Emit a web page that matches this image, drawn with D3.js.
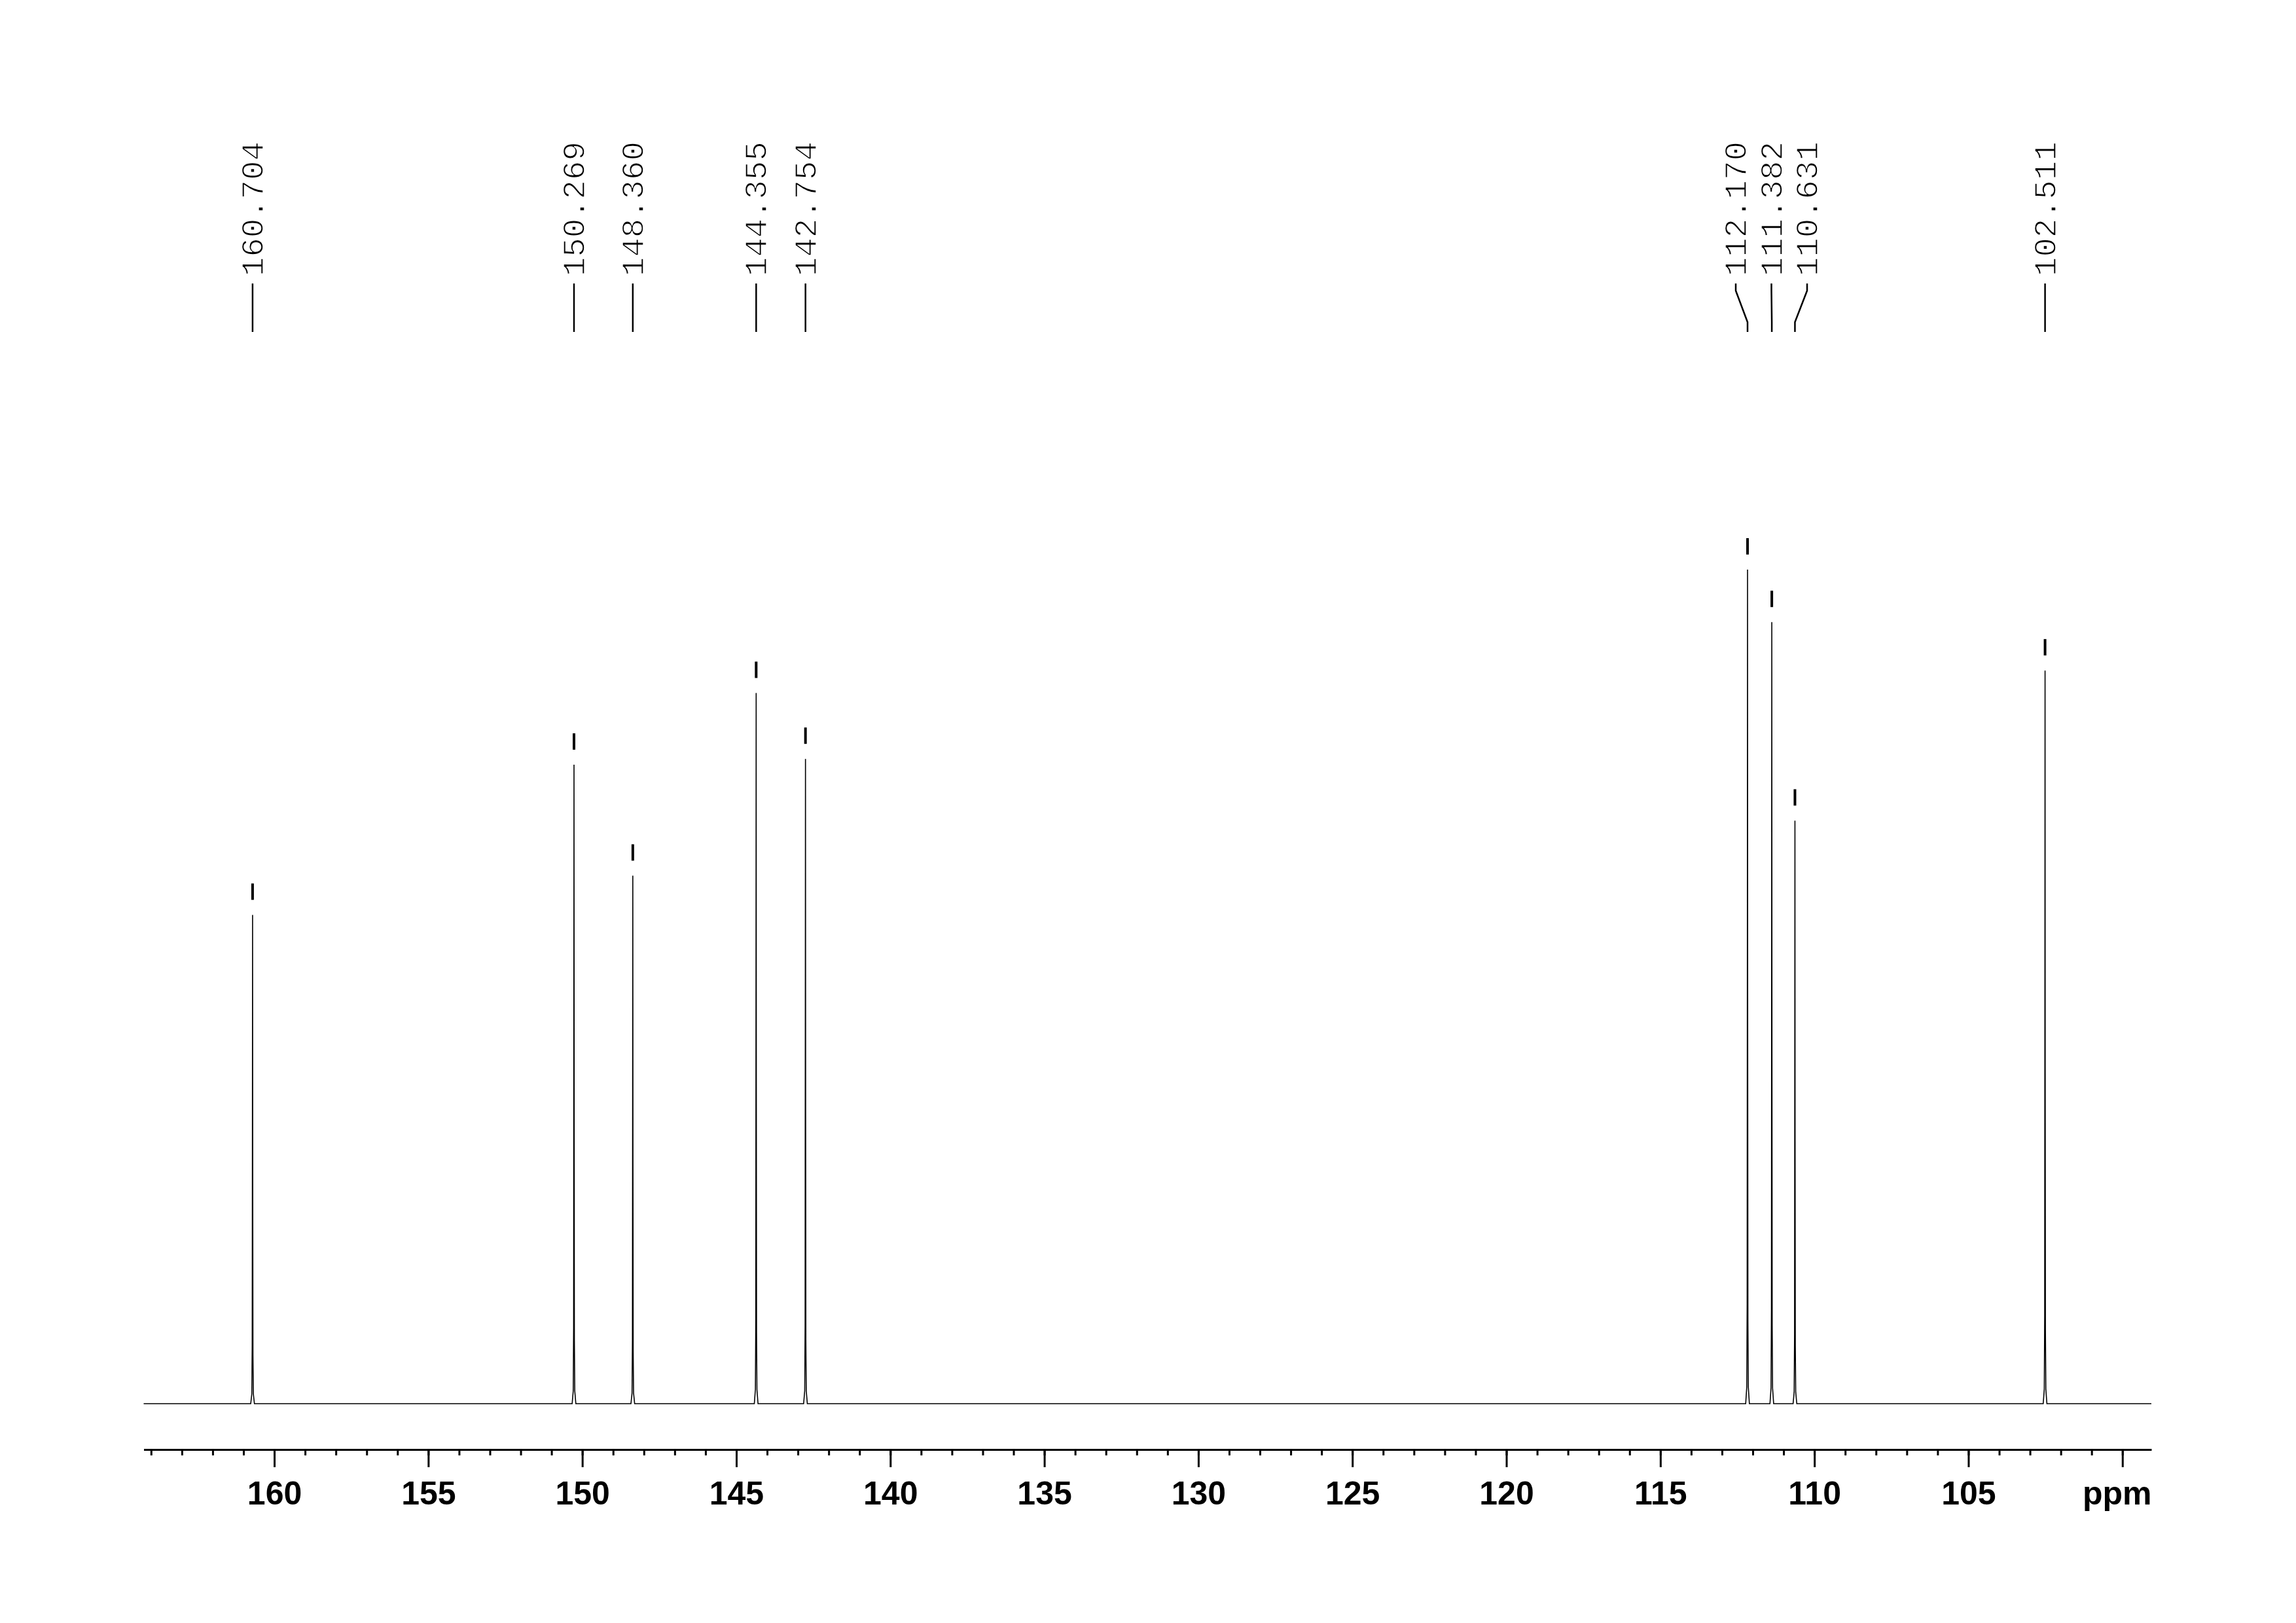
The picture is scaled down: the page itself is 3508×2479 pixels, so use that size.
<html>
<head>
<title>13C NMR</title>
<script src="https://cdn.jsdelivr.net/npm/d3@7"></script>
<style>
body { margin: 0; background: white; }
</style>
</head>
<body>
<svg id="chart"></svg>
<script>
// peaks: shift in ppm, height relative to tallest (=100)
var peak_ppm    = [160.704, 150.269, 148.360, 144.355, 142.754, 112.170, 111.382, 110.631, 102.511];
var peak_height = [58.6,    76.6,    63.3,    85.2,    77.3,    100,     93.7,    69.9,    87.9];

// shape of one peak as drawn (offset in ppm, fraction of peak height)
var shape_offset = [0.06, 0.025, 0.012, 0.005, 0, -0.005, -0.012, -0.025, -0.06];
var shape_frac   = [0,    0.02,  0.12,  0.6,   1, 0.45,   0.1,    0.02,   0];

var ppm_left = 164.24, ppm_right = 99.06;
var major_ticks = [160, 155, 150, 145, 140, 135, 130, 125, 120, 115, 110, 105, 100];
var major_labels = ["160", "155", "150", "145", "140", "135", "130", "125", "120", "115", "110", "105", "ppm"];
var minor_ticks = d3.range(164, 99.5, -1);

var width = 3508, height = 2479;
var axis_y = 2214;

var svg = d3.select("#chart").attr("width", width).attr("height", height);
svg.append("rect").attr("width", width).attr("height", height).style("fill", "white");

var x = d3.scaleLinear().domain([ppm_left, ppm_right]).range([219.5, 3287]);
var y = d3.scaleLinear().domain([0, 100]).range([2144, 870]);

// spectrum: baseline with every peak shape put in
var pts = [[ppm_left, 0]];
for (var i = 0; i < peak_ppm.length; i++) {
  for (var k = 0; k < shape_offset.length; k++) {
    pts.push([peak_ppm[i] + shape_offset[k], peak_height[i] * shape_frac[k]]);
  }
}
pts.push([ppm_right, 0]);

var line = d3.line().x(function(d) { return x(d[0]); }).y(function(d) { return y(d[1]); });
svg.append("path").attr("d", line(pts))
  .style("fill", "none").style("stroke", "#000").style("stroke-width", 1.6);

// peak markers above each top
svg.append("g").selectAll("rect").data(peak_ppm).enter()
  .append("rect")
  .attr("x", function(d) { return x(d) - 2; })
  .attr("y", function(d, i) { return y(peak_height[i]) - 48; })
  .attr("width", 4).attr("height", 25)
  .style("fill", "#000");

// label positions, spread apart where peaks sit too close
var min_gap = 54.5;
var peak_x = peak_ppm.map(function(d) { return x(d); });
var label_x = peak_x.slice();
var s = 0;
while (s < peak_x.length) {
  var e = s;
  while (e + 1 < peak_x.length && peak_x[e + 1] - peak_x[e] < min_gap) e++;
  var n = e - s + 1;
  var mean = d3.mean(peak_x.slice(s, e + 1));
  for (var j = 0; j < n; j++) label_x[s + j] = mean + (j - (n - 1) / 2) * min_gap;
  s = e + 1;
}

var labels = svg.append("g");
labels.selectAll("path").data(peak_ppm).enter()
  .append("path")
  .attr("d", function(d, i) {
    return "M" + label_x[i] + ",433 V444 L" + peak_x[i] + ",492 V507";
  })
  .style("fill", "none").style("stroke", "#000").style("stroke-width", 2.5);

// thin mono labels (white outline thins the glyph strokes a little)
labels.selectAll("text").data(peak_ppm).enter()
  .append("text")
  .attr("transform", function(d, i) { return "translate(" + label_x[i] + ",422) rotate(-90)"; })
  .attr("dy", "0.33em")
  .style("font-family", "'Liberation Mono', 'DejaVu Sans Mono', monospace")
  .style("font-size", "49px")
  .style("fill", "#000")
  .style("stroke", "#fff")
  .style("stroke-width", 1.4)
  .text(function(d) { return d3.format(".3f")(d); });

// x axis, minor then major ticks
var minor = svg.append("g").attr("transform", "translate(0," + axis_y + ")")
  .call(d3.axisBottom(x).tickValues(minor_ticks).tickSize(9).tickSizeOuter(0).tickFormat(""));
minor.select(".domain").style("stroke-width", 3);
minor.selectAll(".tick line").style("stroke-width", 3);

var major = svg.append("g").attr("transform", "translate(0," + axis_y + ")")
  .call(d3.axisBottom(x).tickValues(major_ticks).tickSize(27).tickSizeOuter(0).tickPadding(21)
    .tickFormat(function(d, i) { return major_labels[i]; }));
major.select(".domain").remove();
major.selectAll(".tick line").style("stroke-width", 3);
major.selectAll(".tick text")
  .style("font-family", "'Liberation Sans', Arial, sans-serif")
  .style("font-weight", "bold")
  .style("font-size", "50px")
  .style("fill", "#000");
major.selectAll(".tick text").filter(function(d) { return d == 100; })
  .attr("text-anchor", "end").attr("x", x(ppm_right) - x(100));
</script>
</body>
</html>
